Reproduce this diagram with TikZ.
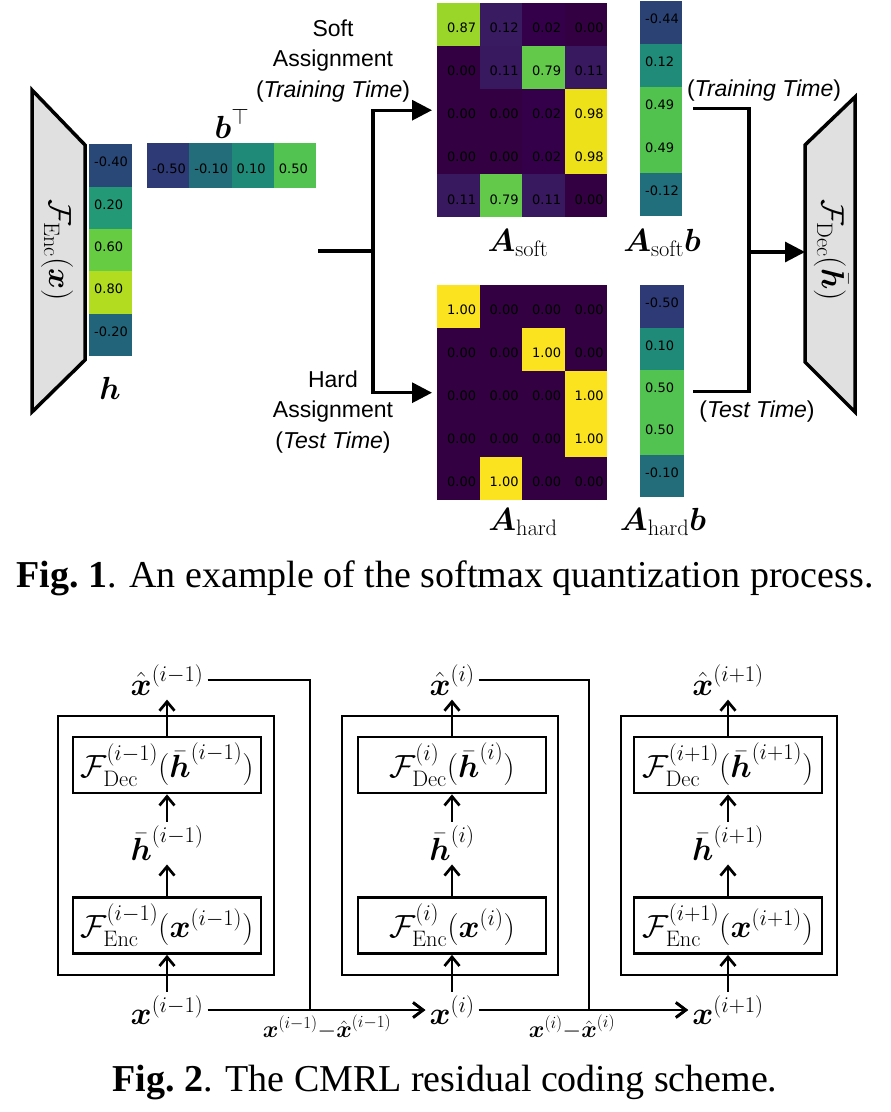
\RequirePackage{fix-cm}
\documentclass[tikz,border=0pt]{standalone}
\usepackage{amsmath, amssymb}
\usepackage[no-math]{fontspec}
\setmainfont{Liberation Serif}
\newfontfamily\numfont{DejaVu Sans}
\newfontfamily\sansfont{Liberation Sans}
\usepackage{xcolor}
\usepackage{tikz}
\usetikzlibrary{arrows.meta}

% heatmap colours (viridis)
\definecolor{c000}{HTML}{330042}
\definecolor{c002}{HTML}{35004A}
\definecolor{c011}{HTML}{38185E}
\definecolor{c012}{HTML}{391B62}
\definecolor{c079}{HTML}{62C94A}
\definecolor{c087}{HTML}{9AD52A}
\definecolor{c098}{HTML}{EDE11A}
\definecolor{c100}{HTML}{FBE41F}
\definecolor{cm50}{HTML}{2D3A75}
\definecolor{cm44}{HTML}{2B4275}
\definecolor{cm40}{HTML}{294878}
\definecolor{cm20}{HTML}{22657A}
\definecolor{cm12}{HTML}{216F7C}
\definecolor{cm10}{HTML}{226D79}
\definecolor{cp10}{HTML}{208A78}
\definecolor{cp12}{HTML}{1F8B78}
\definecolor{cp20}{HTML}{239A75}
\definecolor{cp49}{HTML}{52C24F}
\definecolor{cp50}{HTML}{52C350}
\definecolor{cp60}{HTML}{66CC42}
\definecolor{cp80}{HTML}{B2DC1F}
\definecolor{trapgray}{HTML}{E0E0E0}

\begin{document}
\begin{tikzpicture}[x=1pt, y=-1pt,
    mathlab/.style={font=\fontsize{32}{38}\selectfont, inner sep=4pt},
    sanslab/.style={align=center, font=\sansfont\fontsize{23}{30.5}\selectfont},
    caption/.style={font=\fontsize{38}{44}\selectfont},
    mcell/.style={anchor=north west, inner sep=0pt, minimum width=42.5pt, minimum height=43pt,
        text height=16.5pt, text depth=0pt, font=\numfont\fontsize{13}{13}\selectfont},
    vcell/.style={mcell, text height=9.5pt, text depth=7pt},
    flow/.style={line width=3.2pt, line join=miter},
    flowarr/.style={flow, -{Triangle[length=20pt, width=20pt]}},
    trap/.style={fill=trapgray, draw, line width=3.5pt, line join=miter},
    fbox/.style={draw, line width=2.7pt, minimum width=188pt, minimum height=56pt, inner sep=2pt,
        font=\fontsize{32}{38}\selectfont},
    obox/.style={draw, line width=2.7pt, minimum width=216pt, minimum height=259pt},
    up/.style={line width=2.7pt, -{Straight Barb[length=9pt, width=15pt]}},
    res/.style={line width=2.7pt, line join=miter},
    resarr/.style={res, -{Straight Barb[length=10pt, width=15pt]}},
]
\useasboundingbox (0,0) rectangle (891,1112);

%%% Fig. 1 : softmax quantization
% encoder and decoder
\draw[trap] (32,90) -- (85,145) -- (85,360) -- (32,412) -- cycle;
\node[mathlab, rotate=-90] (enc) at (57,250) {$\mathcal{F}_{\mathrm{Enc}}(\boldsymbol{x})$};
\draw[trap] (805,145) -- (855,97) -- (855,412) -- (805,362) -- cycle;
\node[mathlab, rotate=-90] (dec) at (831,250) {$\mathcal{F}_{\mathrm{Dec}}(\bar{\boldsymbol{h}})$};

% code h and bins b
\foreach \val/\clr [count=\k from 0] in {-0.40/cm40, 0.20/cp20, 0.60/cp60, 0.80/cp80, -0.20/cm20}
    \node[vcell, fill=\clr, minimum width=43pt, minimum height=42.4pt] (h-\k) at (89,144+42.4*\k) {\makebox[33pt][l]{\val}};
\node[mathlab] (hlab) at (110,388) {$\boldsymbol{h}$};
\foreach \val/\clr [count=\k from 0] in {-0.50/cm50, -0.10/cm10, 0.10/cp10, 0.50/cp50}
    \node[mcell, fill=\clr, minimum width=42.25pt, minimum height=45pt] (bt-\k) at (147+42.25*\k,143) {\makebox[32.25pt][l]{\val}};
\node[mathlab] (btlab) at (232,124) {$\boldsymbol{b}^{\top}$};

% soft assignment
\foreach \val/\clr [count=\k from 0] in {0.87/c087, 0.12/c012, 0.02/c002, 0.00/c000,
    0.00/c000, 0.11/c011, 0.79/c079, 0.11/c011,
    0.00/c000, 0.00/c000, 0.02/c002, 0.98/c098,
    0.00/c000, 0.00/c000, 0.02/c002, 0.98/c098,
    0.11/c011, 0.79/c079, 0.11/c011, 0.00/c000} {
    \pgfmathtruncatemacro{\row}{\k/4}
    \pgfmathtruncatemacro{\col}{mod(\k,4)}
    \node[mcell, fill=\clr, minimum height=42.8pt] (soft-\row-\col) at (437+42.5*\col,3+42.8*\row) {\makebox[22.5pt][l]{\val}};
}
\node[mathlab] (softlab) at (518,243) {$\boldsymbol{A}_{\mathrm{soft}}$};
\foreach \val/\clr [count=\k from 0] in {-0.44/cm44, 0.12/cp12, 0.49/cp49, 0.49/cp49, -0.12/cm12}
    \node[vcell, fill=\clr, minimum width=42pt] (softb-\k) at (640,1+43*\k) {\makebox[32pt][l]{\val}};
\node[mathlab] (softblab) at (662,243) {$\boldsymbol{A}_{\mathrm{soft}}\boldsymbol{b}$};

% hard assignment
\foreach \val/\clr [count=\k from 0] in {1.00/c100, 0.00/c000, 0.00/c000, 0.00/c000,
    0.00/c000, 0.00/c000, 1.00/c100, 0.00/c000,
    0.00/c000, 0.00/c000, 0.00/c000, 1.00/c100,
    0.00/c000, 0.00/c000, 0.00/c000, 1.00/c100,
    0.00/c000, 1.00/c100, 0.00/c000, 0.00/c000} {
    \pgfmathtruncatemacro{\row}{\k/4}
    \pgfmathtruncatemacro{\col}{mod(\k,4)}
    \node[mcell, fill=\clr] (hard-\row-\col) at (437+42.5*\col,285+43*\row) {\makebox[22.5pt][l]{\val}};
}
\node[mathlab] (hardlab) at (523,522) {$\boldsymbol{A}_{\mathrm{hard}}$};
\foreach \val/\clr [count=\k from 0] in {-0.50/cm50, 0.10/cp10, 0.50/cp50, 0.50/cp50, -0.10/cm10}
    \node[vcell, fill=\clr, minimum width=44pt, minimum height=42.4pt] (hardb-\k) at (640,285+42.4*\k) {\makebox[34pt][l]{\val}};
\node[mathlab] (hardblab) at (663,522) {$\boldsymbol{A}_{\mathrm{hard}}\boldsymbol{b}$};

% branch labels
\node[sanslab] (softtxt) at (333,61) {Soft\\Assignment\\(\textit{Training Time})};
\node[sanslab] (hardtxt) at (333,412) {Hard\\Assignment\\(\textit{Test Time})};
\node[sanslab] (traintxt) at (764,91) {(\textit{Training Time})};
\node[sanslab] (testtxt) at (757,412) {(\textit{Test Time})};

% connectors
\coordinate (split) at (318,251);
\coordinate (fork) at (373,251);
\coordinate (merge) at (749,252);
\coordinate (decin) at (805,252);
\draw[flow] (split) -- (fork);
\draw[flowarr] (fork) |- ([xshift=-5pt]soft-2-0.west);
\draw[flowarr] (fork) |- ([xshift=-5pt]hard-2-0.west);
\draw[flow] ([xshift=11pt]softb-2.east) -| (merge) |- ([xshift=9pt]hardb-2.east);
\draw[flowarr] (merge) -- (decin);

\node[caption] (cap1) at (445,578) {\textbf{Fig.~1}. An example of the softmax quantization process.};

%%% Fig. 2 : residual coding
\node[obox] (blk-a) at (166,845.5) {};
\node[obox] (blk-b) at (450,845.5) {};
\node[obox] (blk-c) at (729,845.5) {};

\node[mathlab] (xhat-a) at (167,680) {$\hat{\boldsymbol{x}}^{(i-1)}$};
\node[fbox] (dec-a) at (167,765) {$\mathcal{F}^{(i-1)}_{\mathrm{Dec}}(\bar{\boldsymbol{h}}^{(i-1)})$};
\node[mathlab] (hbar-a) at (167,843) {$\bar{\boldsymbol{h}}^{(i-1)}$};
\node[fbox] (enc-a) at (167,925.5) {$\mathcal{F}^{(i-1)}_{\mathrm{Enc}}(\boldsymbol{x}^{(i-1)})$};
\node[mathlab] (xin-a) at (167,1010) {$\boldsymbol{x}^{(i-1)}$};

\node[mathlab] (xhat-b) at (452,680) {$\hat{\boldsymbol{x}}^{(i)}$};
\node[fbox] (dec-b) at (452,765) {$\mathcal{F}^{(i)}_{\mathrm{Dec}}(\bar{\boldsymbol{h}}^{(i)})$};
\node[mathlab] (hbar-b) at (452,843) {$\bar{\boldsymbol{h}}^{(i)}$};
\node[fbox] (enc-b) at (452,925.5) {$\mathcal{F}^{(i)}_{\mathrm{Enc}}(\boldsymbol{x}^{(i)})$};
\node[mathlab] (xin-b) at (452,1010) {$\boldsymbol{x}^{(i)}$};

\node[mathlab] (xhat-c) at (728,680) {$\hat{\boldsymbol{x}}^{(i+1)}$};
\node[fbox] (dec-c) at (728,765) {$\mathcal{F}^{(i+1)}_{\mathrm{Dec}}(\bar{\boldsymbol{h}}^{(i+1)})$};
\node[mathlab] (hbar-c) at (728,843) {$\bar{\boldsymbol{h}}^{(i+1)}$};
\node[fbox] (enc-c) at (728,925.5) {$\mathcal{F}^{(i+1)}_{\mathrm{Enc}}(\boldsymbol{x}^{(i+1)})$};
\node[mathlab] (xin-c) at (728,1010) {$\boldsymbol{x}^{(i+1)}$};

\foreach \s in {a,b,c} {
    \draw[up] (xin-\s) -- (enc-\s);
    \draw[up] (enc-\s) -- (hbar-\s);
    \draw[up] (hbar-\s) -- (dec-\s);
    \draw[up] (dec-\s) -- (xhat-\s);
}

% residuals
\coordinate (join-a) at (310,0 |- xin-a.east);
\coordinate (join-b) at (589,0 |- xin-b.east);
\draw[res] (xhat-a.east) -| (join-a);
\draw[resarr] (xin-a.east) -- (xin-b.west);
\draw[resarr] (join-a) -- (xin-b.west);
\draw[res] (xhat-b.east) -| (join-b);
\draw[resarr] (xin-b.east) -- (xin-c.west);
\draw[resarr] (join-b) -- (xin-c.west);
\node[mathlab, font=\fontsize{34}{40}\selectfont] (resid-a) at (327,1027) {$\scriptstyle\boldsymbol{x}^{(i-1)}-\hat{\boldsymbol{x}}^{(i-1)}$};
\node[mathlab, font=\fontsize{34}{40}\selectfont] (resid-b) at (572,1027) {$\scriptstyle\boldsymbol{x}^{(i)}-\hat{\boldsymbol{x}}^{(i)}$};

\node[caption] (cap2) at (445,1082) {\textbf{Fig.~2}. The CMRL residual coding scheme.};
\end{tikzpicture}
\end{document}
